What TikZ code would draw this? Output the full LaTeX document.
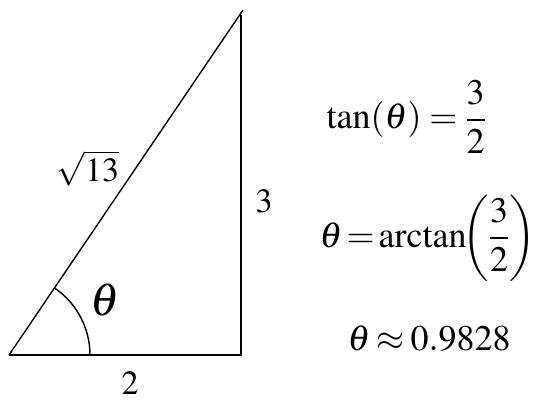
\documentclass[tikz,border=0pt]{standalone}
\usepackage{mathptmx}
\usepackage{fontspec}
\setmainfont{Liberation Serif}
\begin{document}
\begin{tikzpicture}[x=1pt,y=-1pt,line width=1.4pt,font=\fontsize{34}{40}\selectfont]
\tikzset{eqn/.style={inner sep=0pt,font=\fontsize{36}{42}\selectfont}}
\useasboundingbox (0,0) rectangle (550,402);

\begin{scope}
\coordinate (a) at (9,355);
\coordinate (b) at (241,355);
\coordinate (c) at (243,10);
\coordinate (d) at (241,15);

\draw (a) -- (b) -- (d);
\draw (a) -- (c);
\draw (a) ++(81,0) arc[start angle=0,end angle=-56,radius=81];

\node (hyp) at (88,168) {$\sqrt{13}$};
\node (opp) at (264,201) {$3$};
\node (adj) at (130,383) {$2$};
\node[font=\fontsize{46}{50}\selectfont] (ang) at (105,300) {$\theta$};
\end{scope}

\node[eqn,anchor=west] (eqa) at (326,117) {$\displaystyle\tan(\theta)=\frac{3}{2}$};
\node[eqn,anchor=west] (eqb) at (319,238) {$\thickmuskip=2mu\displaystyle\theta=\arctan\!\!\left(\frac{3}{2}\right)$};
\node[eqn,anchor=base west] (eqc) at (347,350) {$\thickmuskip=3mu\theta\approx0.9828$};

\end{tikzpicture}
\end{document}
